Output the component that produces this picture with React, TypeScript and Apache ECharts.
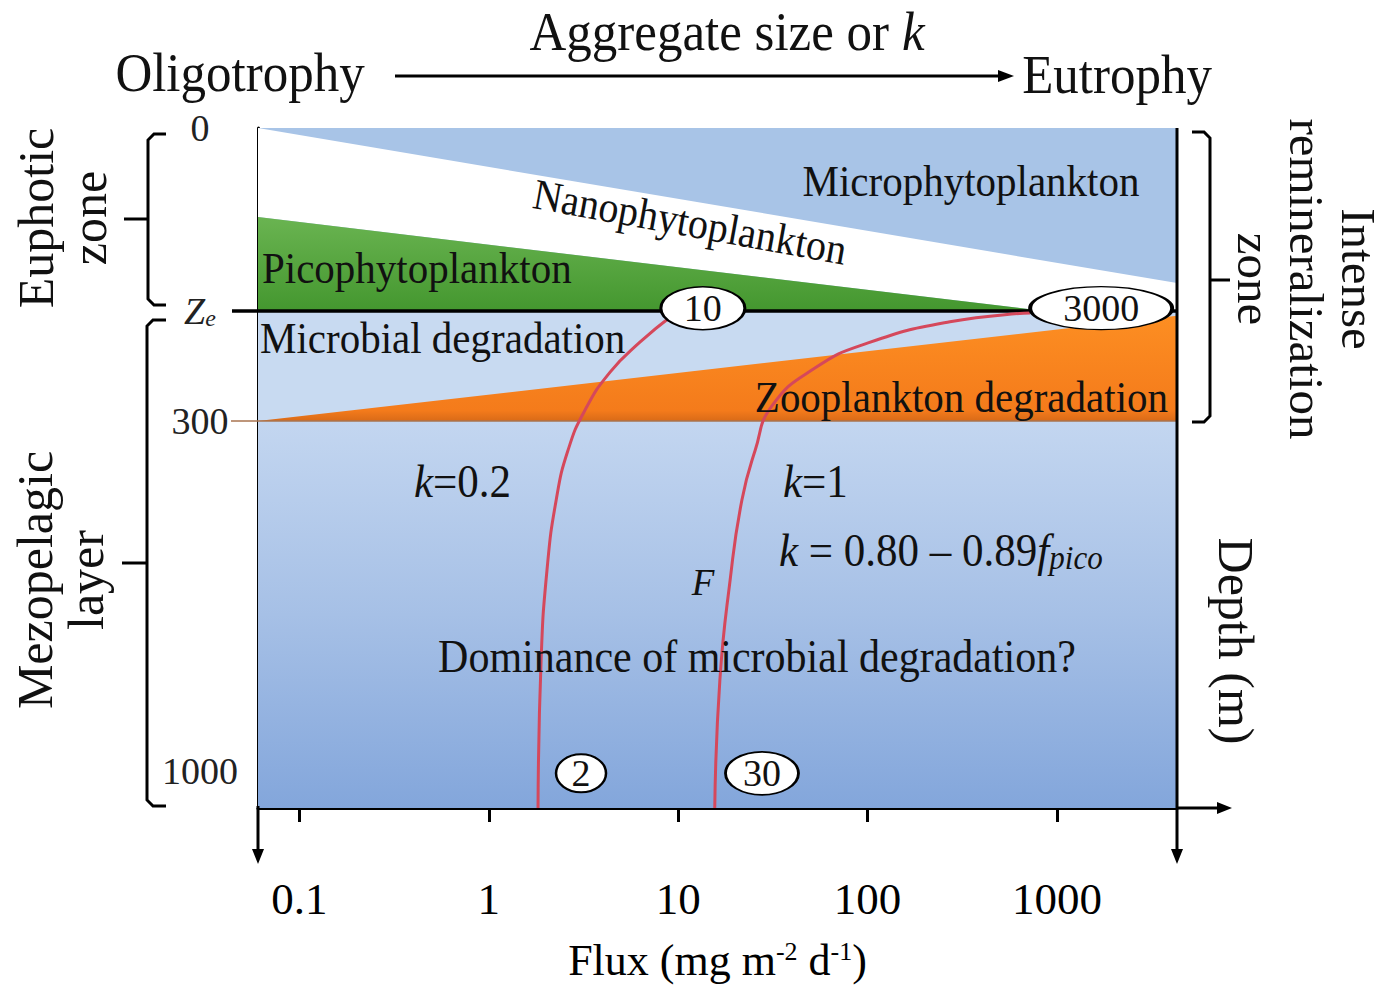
import React, { useEffect, useRef } from 'react';
import * as echarts from 'echarts';

const SERIF = '"Liberation Serif", "Times New Roman", "DejaVu Serif", serif';

// ---- axis extents ----
// x: flux (mg m-2 d-1), log scale; y: schematic depth position (0 = surface, 100 = bottom of panel)
const FLUX_MIN = 0.0605;
const FLUX_MAX = 4300;
const DEPTH_MAX = 100;

// depth levels shown on the depth axis
const yTickValues = [0, 26.9, 43.1, 94.6];
const yTickLabels = ['0', 'Ze', '300', '1000'];
const ZE = yTickValues[1];
const D300 = yTickValues[2];

// ---- zones (flux, depth position) ----
const microphytoPoly = [[FLUX_MIN, 0], [FLUX_MAX, 0], [FLUX_MAX, ZE], [FLUX_MIN, ZE]];
const nanophytoPoly = [[FLUX_MIN, 0], [FLUX_MAX, 22.8], [FLUX_MAX, ZE], [850, ZE], [FLUX_MIN, 13.1]];
const picophytoPoly = [[FLUX_MIN, 13.1], [850, ZE], [FLUX_MIN, ZE]];
const microbialPoly = [[FLUX_MIN, ZE], [FLUX_MAX, ZE], [FLUX_MAX, D300], [FLUX_MIN, D300]];
const zooplanktonPoly = [[FLUX_MIN, D300], [FLUX_MAX, 27.6], [FLUX_MAX, D300]];
const mesopelagicPoly = [[FLUX_MIN, D300], [FLUX_MAX, D300], [FLUX_MAX, DEPTH_MAX], [FLUX_MIN, DEPTH_MAX]];

// ---- flux attenuation curves ----
const curveK02 = [
  [9.27, 27.6], [6.28, 31.5], [4.37, 35.9], [3.22, 41.5], [2.62, 47.4],
  [2.27, 54.7], [2.03, 65.0], [1.89, 78.2], [1.82, 100],
];
const curveK1 = [
  [721, 27.2], [272, 28.5], [100.6, 31.6], [52.7, 35.3], [31.2, 40.9],
  [25.5, 47.4], [21.7, 54.7], [18.8, 66.5], [16.6, 81.2], [15.6, 100],
];

// ---- flux value bubbles ----
const bubbleLabels = ['10', '3000', '2', '30'];
const bubblePositions = [[13.5, 26.5], [1710, 26.5], [3.07, 94.9], [27.7, 94.9]];

// styles (kept apart from data)
const bubbleSizes = [[84, 43], [142, 43], [50, 38], [73, 43]];
const ELLIPSE = 'path://M0,50 A50,50 0 1 1 100,50 A50,50 0 1 1 0,50 Z';

const zones = [microphytoPoly, nanophytoPoly, picophytoPoly, microbialPoly, zooplanktonPoly, mesopelagicPoly];
const zoneFills: any[] = [
  '#a8c4e7',
  '#ffffff',
  new echarts.graphic.LinearGradient(0, 0, 0, 1, [
    { offset: 0, color: '#6ab451' },
    { offset: 1, color: '#44972f' },
  ]),
  '#c8daf1',
  new echarts.graphic.LinearGradient(0, 0, 0, 1, [
    { offset: 0, color: '#fd8e22' },
    { offset: 0.9, color: '#f47b1b' },
    { offset: 1, color: '#d96a18' },
  ]),
  new echarts.graphic.LinearGradient(0, 0, 0, 1, [
    { offset: 0, color: '#c3d6f0' },
    { offset: 0.5, color: '#a6c0e6' },
    { offset: 1, color: '#83a6db' },
  ]),
];

const INK = '#111111';

function txt(text: string, x: number, y: number, size: number, extra: any = {}, el: any = {}) {
  return {
    type: 'text',
    x,
    y,
    z: 100,
    silent: true,
    ...el,
    style: {
      text,
      fontSize: size,
      fontFamily: SERIF,
      fill: INK,
      align: 'left',
      verticalAlign: 'middle',
      ...extra,
    },
  };
}

function line(points: number[][], width = 3) {
  return {
    type: 'polyline',
    z: 100,
    silent: true,
    shape: { points },
    style: { stroke: '#000', lineWidth: width, fill: null },
  };
}

function head(points: number[][]) {
  return {
    type: 'polygon',
    z: 100,
    silent: true,
    shape: { points },
    style: { fill: '#000' },
  };
}

const italic = (size: number) => ({ fontStyle: 'italic', fontSize: size, fontFamily: SERIF, fill: INK });

const graphics: any[] = [
  // title row
  txt('Aggregate size or {i|k}', 727, 31, 51, { align: 'center', rich: { i: italic(51) } }, { scaleY: 1.08 }),
  txt('Oligotrophy', 240, 72, 51, { align: 'center' }, { scaleY: 1.08 }),
  txt('Eutrophy', 1117, 74, 51, { align: 'center' }, { scaleY: 1.08 }),
  line([[395, 76], [1002, 76]], 3),
  head([[998, 70], [1014, 76], [998, 82]]),

  // axis lines extension and arrows
  line([[258, 806], [258, 852]], 3),
  head([[252, 849], [258, 864], [264, 849]]),
  line([[1177, 128], [1177, 852]], 3),
  head([[1171, 849], [1177, 864], [1183, 849]]),
  line([[1177, 808], [1220, 808]], 3),
  head([[1217, 802], [1232, 808], [1217, 814]]),

  // left brackets
  line([[166, 134], [154, 134], [148, 140], [148, 299], [154, 305], [166, 305]], 3),
  line([[124, 219], [148, 219]], 3),
  line([[166, 320], [153, 320], [147, 326], [147, 800], [153, 806], [166, 806]], 3),
  line([[122, 563], [147, 563]], 3),
  // right bracket
  line([[1192, 132], [1204, 132], [1210, 138], [1210, 416], [1204, 422], [1192, 422]], 3),
  line([[1210, 280], [1230, 280]], 3),

  // rotated side labels
  txt('Euphotic\nzone', 62, 218, 50, { align: 'center', lineHeight: 53 }, { rotation: Math.PI / 2 }),
  txt('Mezopelagic\nlayer', 60, 580, 50, { align: 'center', lineHeight: 51 }, { rotation: Math.PI / 2 }),
  txt('Intense\nremineralization\nzone', 1306, 279, 49, { align: 'center', lineHeight: 52 }, { rotation: -Math.PI / 2 }),
  txt('Depth (m)', 1236, 641, 50, { align: 'center' }, { rotation: -Math.PI / 2 }),

  // zone labels
  txt('Microphytoplankton', 971, 181, 41, { align: 'center' }, { scaleY: 1.08 }),
  txt('Nanophytoplankton', 690, 222, 40, { align: 'center' }, { rotation: -0.18, scaleY: 1.08 }),
  txt('Picophytoplankton', 262, 268, 41, {}, { scaleY: 1.08 }),
  txt('Microbial degradation', 260, 338, 41, {}, { scaleY: 1.08 }),
  txt('Zooplankton degradation', 1168, 397, 41, { align: 'right' }, { scaleY: 1.08 }),

  // equations
  txt('{i|k}=0.2', 414, 481, 43, { rich: { i: italic(43) } }, { scaleY: 1.08 }),
  txt('{i|k}=1', 783, 481, 43, { rich: { i: italic(43) } }, { scaleY: 1.08 }),
  txt('{i|k} = 0.80 – 0.89{i|f}{s|pico}', 779, 550, 43, {
    rich: {
      i: italic(43),
      s: { fontStyle: 'italic', fontSize: 31, fontFamily: SERIF, fill: INK, verticalAlign: 'bottom', padding: [14, 0, 0, 0] },
    },
  }, { scaleY: 1.08 }),
  txt('F', 703, 582, 37, { align: 'center', fontStyle: 'italic' }),
  txt('Dominance of microbial degradation?', 757, 656, 42, { align: 'center' }, { scaleY: 1.08 }),
];

const option: any = {
  animation: false,
  backgroundColor: '#ffffff',
  grid: { left: 258, top: 128, width: 919, height: 680, containLabel: false, outerBoundsMode: 'none' },
  xAxis: {
    type: 'log',
    logBase: 10,
    min: FLUX_MIN,
    max: FLUX_MAX,
    position: 'bottom',
    axisLine: { show: true, onZero: false, lineStyle: { color: '#000', width: 3 } },
    axisTick: { show: true, inside: false, length: 14, lineStyle: { color: '#000', width: 3 } },
    axisLabel: {
      show: true,
      margin: 68,
      fontSize: 45,
      fontFamily: SERIF,
      color: '#000',
      showMinLabel: false,
      showMaxLabel: false,
      formatter: (v: number) => {
        const s = +Number(v).toPrecision(4);
        return s < 0.09 || s > 1500 ? '' : String(s);
      },
    },
    splitLine: { show: false },
    minorTick: { show: false },
    minorSplitLine: { show: false },
    name: 'Flux (mg m{sup|-2} d{sup|-1})',
    nameLocation: 'middle',
    nameGap: 130,
    nameMoveOverlap: false,
    nameTextStyle: {
      fontSize: 44,
      fontFamily: SERIF,
      color: '#000',
      rich: { sup: { fontSize: 26, fontFamily: SERIF, color: '#000', verticalAlign: 'top' } },
    },
  },
  yAxis: [
    {
      type: 'value',
      inverse: true,
      min: 0,
      max: DEPTH_MAX,
      position: 'left',
      axisLine: { show: true, onZero: false, lineStyle: { color: '#000', width: 3 } },
      axisTick: { show: true, customValues: [ZE], length: 26, lineStyle: { color: '#000', width: 3.5 } },
      axisLabel: {
        show: true,
        customValues: yTickValues,
        align: 'center',
        margin: 58,
        fontSize: 38,
        fontFamily: SERIF,
        color: '#222',
        formatter: (v: number) => {
          const i = yTickValues.findIndex((t) => Math.abs(t - v) < 0.01);
          const lab = i >= 0 ? yTickLabels[i] : '';
          return lab === 'Ze' ? '{z|Z}{e|e}' : lab;
        },
        rich: {
          z: { fontStyle: 'italic', fontSize: 38, fontFamily: SERIF, color: '#222' },
          e: { fontStyle: 'italic', fontSize: 24, fontFamily: SERIF, color: '#222', verticalAlign: 'bottom', padding: [12, 0, 0, 0] },
        },
      },
      splitLine: { show: false },
    },
    {
      type: 'value',
      inverse: true,
      min: 0,
      max: DEPTH_MAX,
      position: 'left',
      axisLine: { show: false, onZero: false },
      axisTick: { show: true, customValues: [D300], length: 27, lineStyle: { color: '#a8734f', width: 1.5 } },
      axisLabel: { show: false },
      splitLine: { show: false },
    },
  ],
  graphic: { elements: graphics },
  series: [
    {
      type: 'custom',
      name: 'zones',
      silent: true,
      z: 1,
      data: zones.map(() => [1, 50]),
      renderItem: (params: any, api: any) => {
        const pts = zones[params.dataIndex].map((p) => api.coord(p));
        return { type: 'polygon', shape: { points: pts }, style: { fill: zoneFills[params.dataIndex] } };
      },
    },
    {
      type: 'line',
      name: 'Ze',
      silent: true,
      z: 3,
      symbol: 'none',
      data: [[FLUX_MIN, ZE], [FLUX_MAX, ZE]],
      lineStyle: { color: '#000', width: 3.5 },
    },
    {
      type: 'line',
      name: '300 m',
      silent: true,
      z: 3,
      symbol: 'none',
      data: [[FLUX_MIN, D300], [FLUX_MAX, D300]],
      lineStyle: { color: '#a8734f', width: 1.5 },
    },
    {
      type: 'line',
      name: 'k=0.2',
      silent: true,
      z: 4,
      symbol: 'none',
      smooth: 0.5,
      data: curveK02,
      lineStyle: { color: '#d5485b', width: 3 },
    },
    {
      type: 'line',
      name: 'k=1',
      silent: true,
      z: 4,
      symbol: 'none',
      smooth: 0.5,
      data: curveK1,
      lineStyle: { color: '#d5485b', width: 3 },
    },
    {
      type: 'scatter',
      name: 'flux values',
      silent: true,
      z: 6,
      clip: false,
      symbol: ELLIPSE,
      symbolSize: (_v: any, p: any) => bubbleSizes[p.dataIndex],
      data: bubblePositions,
      itemStyle: { color: '#ffffff', borderColor: '#000', borderWidth: 2.2, opacity: 1 },
      label: {
        show: true,
        position: 'inside',
        formatter: (p: any) => bubbleLabels[p.dataIndex],
        fontSize: 38,
        fontFamily: SERIF,
        color: '#111',
      },
    },
  ],
};

export default function App() {
  const ref = useRef<HTMLDivElement>(null);
  useEffect(() => {
    if (!ref.current) return;
    const chart = echarts.init(ref.current, null, { renderer: 'svg' });
    chart.setOption(option);
    return () => chart.dispose();
  }, []);
  return (
    <div
      ref={ref}
      style={{ position: 'fixed', left: 0, top: 0, width: 1387, height: 985, background: '#fff' }}
    />
  );
}
